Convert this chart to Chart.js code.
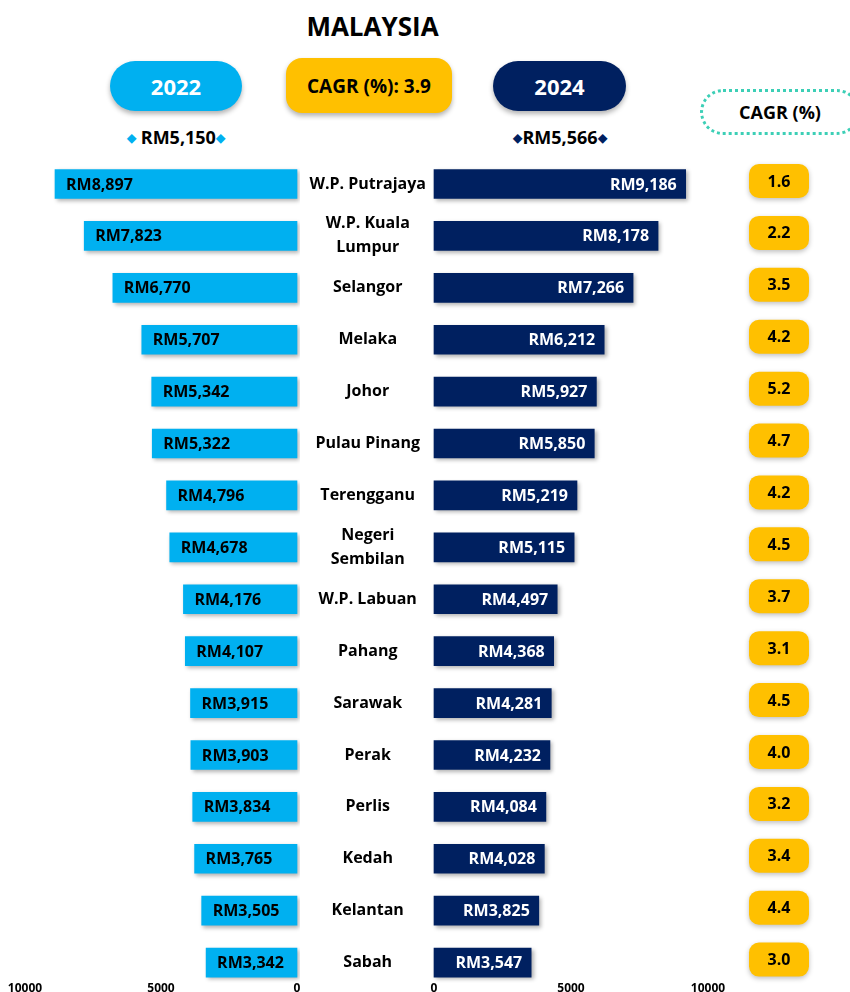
<!DOCTYPE html>
<html>
<head>
<meta charset="utf-8">
<script src="https://cdn.jsdelivr.net/npm/chart.js@4"></script>
<style>
  body { margin: 0; width: 850px; height: 992px; overflow: hidden; background: #fff; font-family: "Open Sans", sans-serif; font-weight: 700; position: relative; }
  .abs { position: absolute; }
  .title { left: 0; width: 745px; top: 8px; text-align: center; font-size: 26px; color: #000; }
  .pill { display: flex; align-items: center; justify-content: center; box-shadow: 0 3px 5px rgba(0,0,0,0.3); }
  .avg { font-size: 18px; color: #000; text-align: center; top: 125px; }
  .avg span { font-size: 12px; vertical-align: 2px; }
  #left { left: 0; top: 150px; }
  #right { left: 297px; top: 150px; }
</style>
</head>
<body>
<div class="abs title">MALAYSIA</div>
<div class="abs pill" style="left:110px;top:61px;width:132px;height:50px;border-radius:25px;background:#00b0f0;color:#fff;font-size:22px;">2022</div>
<div class="abs pill" style="left:286px;top:58px;width:166px;height:55px;border-radius:16px;background:#ffc000;color:#000;font-size:19px;">CAGR (%): 3.9</div>
<div class="abs pill" style="left:493px;top:61px;width:133px;height:50px;border-radius:25px;background:#002060;color:#fff;font-size:22px;">2024</div>
<div class="abs avg" style="left:96px;width:160px;"><span style="color:#00b0f0">&#9670;</span> RM5,150<span style="color:#00b0f0">&#9670;</span></div>
<div class="abs avg" style="left:480px;width:160px;"><span style="color:#002060">&#9670;</span>RM5,566<span style="color:#002060">&#9670;</span></div>
<div class="abs" style="left:700px;top:89px;width:154px;height:40px;border-radius:23px;border:3px dotted #3ccfb6;display:flex;align-items:center;justify-content:center;font-size:18px;color:#000;">CAGR (%)</div>
<canvas id="left" class="abs"></canvas>
<canvas id="right" class="abs"></canvas>
<script>
const states = ["W.P. Putrajaya", ["W.P. Kuala", "Lumpur"], "Selangor", "Melaka", "Johor", "Pulau Pinang",
    "Terengganu", ["Negeri", "Sembilan"], "W.P. Labuan", "Pahang", "Sarawak", "Perak", "Perlis", "Kedah",
    "Kelantan", "Sabah"];
const income2022 = [8897, 7823, 6770, 5707, 5342, 5322, 4796, 4678, 4176, 4107, 3915, 3903, 3834, 3765, 3505, 3342];
const income2024 = [9186, 8178, 7266, 6212, 5927, 5850, 5219, 5115, 4497, 4368, 4281, 4232, 4084, 4028, 3825, 3547];
const cagr = ["1.6", "2.2", "3.5", "4.2", "5.2", "4.7", "4.2", "4.5", "3.7", "3.1", "4.5", "4.0", "3.2", "3.4", "4.4", "3.0"];
const xTicks = [0, 5000, 10000];

const FONT = "Open Sans";
Chart.defaults.font.family = FONT;
Chart.defaults.font.weight = "bold";
Chart.defaults.color = "#000";

function fmt(v) {
    return "RM" + v.toLocaleString("en-US");
}

function roundRect(ctx, x, y, w, h, r) {
    ctx.beginPath();
    ctx.moveTo(x + r, y);
    ctx.arcTo(x + w, y, x + w, y + h, r);
    ctx.arcTo(x + w, y + h, x, y + h, r);
    ctx.arcTo(x, y + h, x, y, r);
    ctx.arcTo(x, y, x + w, y, r);
    ctx.closePath();
}

// shadows under the bars + value text inside them
const barLabels = {
    id: "barLabels",
    beforeDatasetsDraw(chart) {
        const ctx = chart.ctx;
        ctx.save();
        ctx.shadowColor = "rgba(0,0,0,0.3)";
        ctx.shadowBlur = 4;
        ctx.shadowOffsetX = 2;
        ctx.shadowOffsetY = 2;
    },
    afterDatasetsDraw(chart, args, opts) {
        const ctx = chart.ctx;
        ctx.restore();
        ctx.save();
        ctx.font = `bold 16px "${FONT}"`;
        ctx.textBaseline = "middle";
        ctx.fillStyle = opts.color;
        ctx.textAlign = opts.side === "left" ? "left" : "right";
        const vals = chart.data.datasets[0].data;
        chart.getDatasetMeta(0).data.forEach((bar, i) => {
            const x = opts.side === "left" ? bar.x + 11 : bar.x - 9;
            ctx.fillText(fmt(vals[i]), x, bar.y + 1);
        });
        ctx.restore();
    }
};

// CAGR badges on the right
const cagrBadges = {
    id: "cagrBadges",
    afterDraw(chart) {
        const ctx = chart.ctx;
        const yScale = chart.scales.y;
        cagr.forEach((c, i) => {
            const y = yScale.getPixelForValue(i) - 3;
            ctx.save();
            ctx.shadowColor = "rgba(0,0,0,0.25)";
            ctx.shadowBlur = 5;
            ctx.shadowOffsetY = 2;
            ctx.fillStyle = "#ffc000";
            roundRect(ctx, 452, y - 17, 60, 34, 10);
            ctx.fill();
            ctx.restore();
            ctx.save();
            ctx.font = `bold 16px "${FONT}"`;
            ctx.textAlign = "center";
            ctx.textBaseline = "middle";
            ctx.fillStyle = "#000";
            ctx.fillText(c, 482, y + 1);
            ctx.restore();
        });
    }
};

const xAxis = (reverse) => ({
    type: "linear",
    min: 0,
    max: 10000,
    reverse: reverse,
    afterBuildTicks: (scale) => { scale.ticks = xTicks.map(v => ({ value: v })); },
    grid: { display: false },
    border: { display: false },
    ticks: {
        padding: 11,
        font: { size: 12, weight: "bold" },
        color: "#000",
        callback: (v) => String(v)
    }
});

const H = 857;
document.getElementById("left").width = 300;
document.getElementById("left").height = H;
document.getElementById("right").width = 553;
document.getElementById("right").height = H;

new Chart(document.getElementById("left"), {
    type: "bar",
    data: {
        labels: states,
        datasets: [{ data: income2022, backgroundColor: "#00b0f0", barThickness: 29, clip: false }]
    },
    options: {
        indexAxis: "y",
        responsive: false,
        animation: false,
        layout: { padding: { top: 34, left: 25, right: 3, bottom: 0 } },
        scales: {
            x: xAxis(true),
            y: { display: false, offset: false }
        },
        plugins: {
            legend: { display: false },
            tooltip: { enabled: false },
            barLabels: { side: "left", color: "#000" }
        }
    },
    plugins: [barLabels]
});

new Chart(document.getElementById("right"), {
    type: "bar",
    data: {
        labels: states,
        datasets: [{ data: income2024, backgroundColor: "#002060", barThickness: 29, clip: false }]
    },
    options: {
        indexAxis: "y",
        responsive: false,
        animation: false,
        layout: { padding: { top: 34, left: 0, right: 142, bottom: 0 } },
        scales: {
            x: xAxis(false),
            y: {
                offset: false,
                grid: { display: false },
                border: { display: false },
                afterFit: (scale) => { scale.width = 137; },
                ticks: {
                    autoSkip: false,
                    crossAlign: "center",
                    padding: 0,
                    font: { size: 16, weight: "bold", lineHeight: 1.5 },
                    color: "#000"
                }
            }
        },
        plugins: {
            legend: { display: false },
            tooltip: { enabled: false },
            barLabels: { side: "right", color: "#fff" }
        }
    },
    plugins: [barLabels, cagrBadges]
});
</script>
</body>
</html>
